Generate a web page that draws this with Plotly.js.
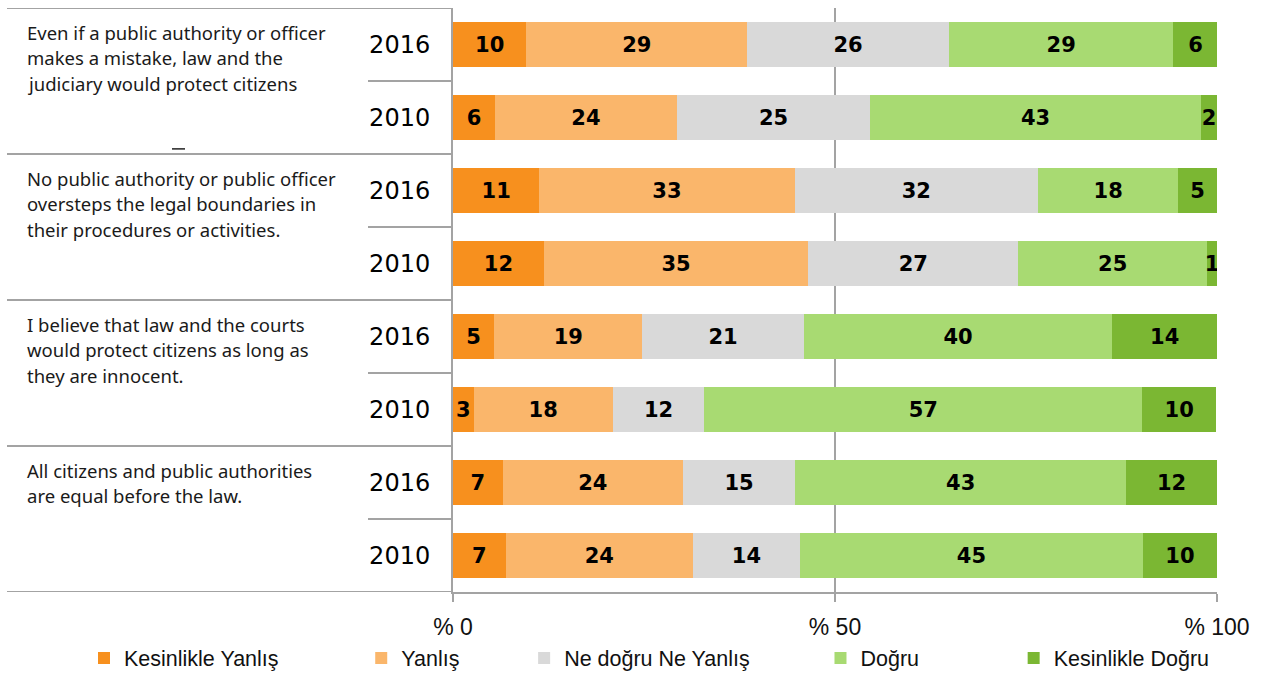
<!DOCTYPE html>
<html>
<head>
<meta charset="utf-8">
<script src="https://cdn.plot.ly/plotly-3.0.1.min.js"></script>
<style>html,body{margin:0;padding:0;background:#fff;}#chart{width:1268px;height:674px;}</style>
</head>
<body>
<div id="chart"></div>
<script>
// ---- data (rows top to bottom) ----
const statements = [
  ["Even if a public authority or officer", "makes a mistake, law and the", "judiciary would protect citizens"],
  ["No public authority or public officer", "oversteps the legal boundaries in", "their procedures or activities."],
  ["I believe that law and the courts", "would protect citizens as long as", "they are innocent."],
  ["All citizens and public authorities", "are equal before the law."]
];
const years = ["2016", "2010", "2016", "2010", "2016", "2010", "2016", "2010"];
const seriesNames = ["Kesinlikle Yanlış", "Yanlış", "Ne doğru Ne Yanlış", "Doğru", "Kesinlikle Doğru"];
const kesinlikleYanlis = [9.6, 5.5, 11.3, 11.9, 5.4, 2.7, 6.5, 6.9];
const yanlis           = [28.9, 23.8, 33.4, 34.6, 19.4, 18.2, 23.6, 24.5];
const neDogruNeYanlis  = [26.4, 25.3, 31.9, 27.5, 21.1, 12.0, 14.7, 14.0];
const dogru            = [29.4, 43.3, 18.3, 24.7, 40.4, 57.3, 43.3, 44.9];
const kesinlikleDogru  = [5.8, 2.1, 5.1, 1.3, 13.7, 9.7, 11.9, 9.7];
const kesinlikleYanlisLabels = [10, 6, 11, 12, 5, 3, 7, 7];
const yanlisLabels           = [29, 24, 33, 35, 19, 18, 24, 24];
const neDogruNeYanlisLabels  = [26, 25, 32, 27, 21, 12, 15, 14];
const dogruLabels            = [29, 43, 18, 25, 40, 57, 43, 45];
const kesinlikleDogruLabels  = [6, 2, 5, 1, 14, 10, 12, 10];
const xTickVals = [0, 50, 100];
const xTickText = ["% 0", "% 50", "% 100"];

const colors = ["#F7901E", "#FAB66B", "#D9D9D9", "#A8DA72", "#7BB733"];
const values = [kesinlikleYanlis, yanlis, neDogruNeYanlis, dogru, kesinlikleDogru];
const labels = [kesinlikleYanlisLabels, yanlisLabels, neDogruNeYanlisLabels, dogruLabels, kesinlikleDogruLabels];
const pads = [13, 10, 11, 15, 0];

const rowIdx = years.map((_, i) => i);
const traces = seriesNames.map((name, s) => ({
  type: "bar",
  orientation: "h",
  name: name + "\u00a0".repeat(pads[s]),
  x: values[s],
  y: rowIdx,
  text: labels[s].map(String),
  textposition: "inside",
  insidetextanchor: "middle",
  constraintext: "none",
  textangle: 0,
  textfont: {family: "DejaVu Sans", size: 21, color: "#000", weight: "bold"},
  marker: {color: colors[s], line: {width: 0}},
  hoverinfo: "skip"
}));

const gray = "#A3A3A3";
const PX = 764; // plot width px
const leftEdge = (7 - 453) / PX;
const shortEdge = (368 - 453) / PX;
const shapes = [];
[-0.5, 1.5, 3.5, 5.5, 7.5].forEach(y => shapes.push({type: "line", xref: "paper", yref: "y", x0: leftEdge, x1: 0, y0: y, y1: y, line: {color: gray, width: 2}}));
[0.5, 2.5, 4.5, 6.5].forEach(y => shapes.push({type: "line", xref: "paper", yref: "y", x0: shortEdge, x1: 0, y0: y, y1: y, line: {color: gray, width: 2}}));
shapes.push({type: "line", xref: "paper", yref: "y", x0: (172 - 453) / PX, x1: (185 - 453) / PX, y0: 1.43, y1: 1.43, line: {color: "#222", width: 1.5}});

const annotations = [];
const groupStart = [-0.5, 1.5, 3.5, 5.5];
statements.forEach((lines, g) => {
  lines.forEach((ln, i) => {
    annotations.push({
      xref: "paper", yref: "y", x: (25 - 453) / PX, y: groupStart[g],
      xanchor: "left", yanchor: "middle", yshift: -(24 + 25.5 * i),
      text: ln, showarrow: false,
      font: {family: "Noto Sans", size: 18.5, color: "#1a1a1a"}
    });
  });
});

const layout = {
  width: 1268, height: 674,
  margin: {l: 453, r: 51, t: 8, b: 82, pad: 0, autoexpand: false},
  paper_bgcolor: "#fff", plot_bgcolor: "#fff",
  barmode: "stack",
  bargap: 0.384,
  showlegend: true,
  legend: {
    orientation: "h", x: (84 - 453) / PX, xanchor: "left", y: -0.113, yanchor: "middle",
    bgcolor: "rgba(0,0,0,0)",
    font: {family: "Liberation Sans Narrow, Liberation Sans, sans-serif", size: 21.5, color: "#111"},
    traceorder: "normal", itemclick: false, itemdoubleclick: false
  },
  xaxis: {
    range: [0, 100], tickvals: xTickVals, ticktext: xTickText,
    showgrid: true, gridcolor: gray, gridwidth: 2,
    zeroline: false, showline: true, linecolor: gray, linewidth: 2,
    ticks: "outside", ticklen: 8, tickcolor: gray, tickwidth: 2,
    ticklabelstandoff: 5,
    tickfont: {family: "Liberation Sans Narrow, Liberation Sans, sans-serif", size: 23, color: "#111"},
    fixedrange: true
  },
  yaxis: {
    range: [7.5, -0.5], tickvals: rowIdx, ticktext: years,
    showgrid: false, zeroline: false, showline: true, linecolor: gray, linewidth: 2,
    ticks: "", ticklabelstandoff: 16,
    tickfont: {family: "DejaVu Sans", size: 24, color: "#000"},
    fixedrange: true
  },
  shapes: shapes,
  annotations: annotations
};

Plotly.newPlot("chart", traces, layout, {displayModeBar: false, staticPlot: true});
</script>
</body>
</html>
